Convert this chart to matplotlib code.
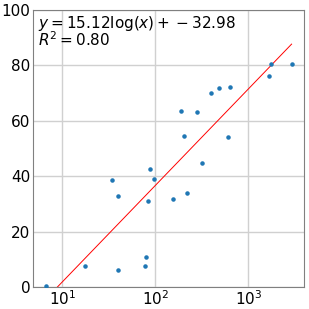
import numpy as np
import matplotlib
matplotlib.use("Agg")
import matplotlib.pyplot as plt

x_vals = [6.7, 17.7, 33.9, 39.7, 39.7, 78, 79.4, 84.1, 88.4, 96.8, 156, 189, 203, 219,
          278, 318, 397, 488, 609, 640, 1656, 1740, 2924]
y_vals = [0.5, 7.45, 38.5, 32.7, 6.25, 7.45, 10.7, 31.1, 42.7, 38.9, 31.7, 63.7, 54.6, 34.1,
          63.2, 44.6, 70.2, 71.9, 54.0, 72.1, 76.1, 80.6, 80.6]
slope = 15.12
intercept = -32.98
r2 = 0.80

fig = plt.figure(figsize=(3.09, 3.09), dpi=100)
ax = fig.add_axes([33/309, 22/309, 271/309, 277/309])
ax.set_xscale('log')
ax.scatter(x_vals, y_vals, s=5, color='#1f77b4', zorder=3)
xl = np.linspace(min(x_vals), max(x_vals), 200)
ax.plot(xl, slope*np.log(xl) + intercept, color='red', lw=0.7, zorder=2)
ax.set_xlim(4.84, 3975)
ax.set_ylim(0, 100)
ax.set_yticks([0, 20, 40, 60, 80, 100])
ax.grid(True, which='major', color='#d0d0d0', lw=1)
ax.minorticks_off()
ax.tick_params(length=0, labelsize=11, pad=2)
for s in ax.spines.values():
    s.set_color('#808080')
ax.text(0.02, 0.985, r'$y = 15.12\log(x) + -32.98$' + '\n' + r'$R^2 = 0.80$',
        transform=ax.transAxes, va='top', ha='left', fontsize=11, linespacing=0.85)
fig.savefig('out.png', dpi=100)
